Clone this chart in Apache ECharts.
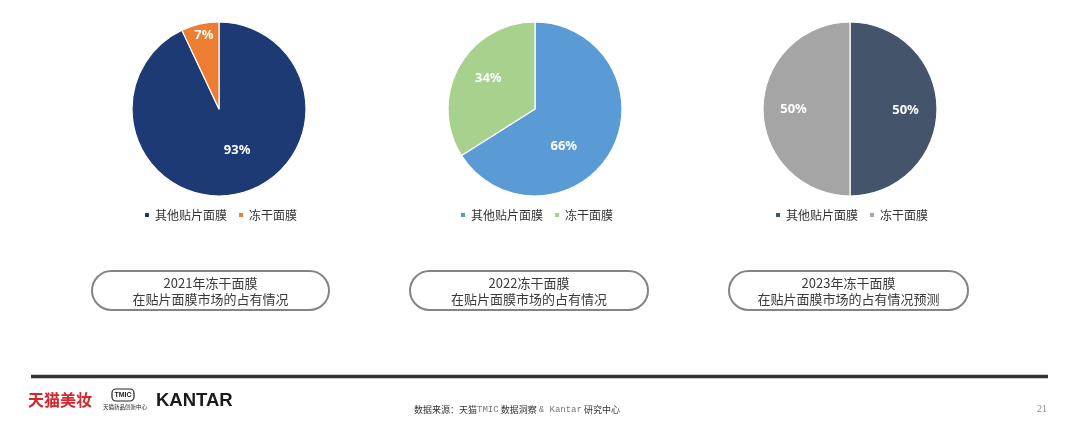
<!DOCTYPE html>
<html>
<head>
<meta charset="utf-8">
<script src="https://cdn.jsdelivr.net/npm/echarts@6/dist/echarts.min.js"></script>
<style>
  html, body { margin: 0; padding: 0; background: #ffffff; }
  #chart { width: 1080px; height: 443px; }
</style>
</head>
<body>
<div id="chart"></div>
<script>
// ---- data ----
const years = ['2021', '2022', '2023'];
const categories = ['其他贴片面膜', '冻干面膜'];
const share2021 = [93, 7];
const share2022 = [66, 34];
const share2023 = [50, 50];
const boxLine1 = ['2021年冻干面膜', '2022冻干面膜', '2023年冻干面膜'];
const boxLine2 = ['在贴片面膜市场的占有情况', '在贴片面膜市场的占有情况', '在贴片面膜市场的占有情况预测'];
const sourceText = ['数据来源：天猫', 'TMIC', ' 数据洞察 ', '& Kantar', ' 研究中心'];
const pageNumber = '21';

// ---- styles / layout ----
const shares = [share2021, share2022, share2023];
const colors = [
  ['#1D3A75', '#ED7D31'],
  ['#5B9BD5', '#A9D18E'],
  ['#44546A', '#A5A5A5']
];
const pieCenters = [[219, 109], [535, 109], [850, 109]];
const pieRadius = 87;
const labelOffsets = [
  [[8, -4], [-5, -28]],
  [[-12, 15], [-6, -8]],
  [[9, 1], [-10, 0]]
];
const boxes = [[92, 271, 237, 39], [410, 271, 238, 39], [729, 271, 239, 39]];
const CJK = '"Noto Sans CJK SC", "Noto Sans", sans-serif';

const chart = echarts.init(document.getElementById('chart'), null, { renderer: 'canvas' });

const series = shares.map((vals, k) => ({
  type: 'pie',
  center: pieCenters[k],
  radius: [0, pieRadius],
  startAngle: 90,
  clockwise: true,
  silent: true,
  animation: false,
  itemStyle: { borderColor: '#ffffff', borderWidth: 1.2 },
  label: {
    show: true,
    position: 'inside',
    formatter: '{c}%',
    color: '#ffffff',
    fontSize: 13,
    fontWeight: 'bold',
    fontFamily: '"Noto Sans", sans-serif'
  },
  labelLine: { show: false },
  emphasis: { disabled: true },
  data: categories.map((name, i) => ({
    name: name,
    value: vals[i],
    itemStyle: { color: colors[k][i] },
    label: { offset: labelOffsets[k][i] }
  }))
}));

const legends = years.map((y, k) => ({
  left: pieCenters[k][0] - 81,
  top: 204,
  orient: 'horizontal',
  icon: 'rect',
  itemWidth: 6,
  itemHeight: 6,
  itemGap: 10,
  selectedMode: false,
  textStyle: { fontSize: 12, color: '#333333', fontFamily: CJK },
  data: categories.map((name, i) => ({ name: name, itemStyle: { color: colors[k][i] } }))
}));

const graphics = [];
boxes.forEach((b, k) => {
  graphics.push({
    type: 'rect',
    shape: { x: b[0], y: b[1], width: b[2], height: b[3], r: b[3] / 2 },
    style: { fill: '#ffffff', stroke: '#848484', lineWidth: 2 },
    silent: true
  });
  graphics.push({
    type: 'text',
    x: b[0] + b[2] / 2,
    y: b[1] + b[3] / 2 + 0.5,
    style: {
      text: boxLine1[k] + '\n' + boxLine2[k],
      align: 'center',
      verticalAlign: 'middle',
      fontSize: 13,
      lineHeight: 16,
      fill: '#3a3a3a',
      fontFamily: CJK
    },
    silent: true
  });
});

// footer rule
graphics.push({
  type: 'line',
  shape: { x1: 31, y1: 376.5, x2: 1048, y2: 376.5 },
  style: { stroke: '#333333', lineWidth: 3.5 },
  silent: true
});
// logos
graphics.push({
  type: 'text', x: 28, y: 400,
  style: { text: '天猫美妆', fontSize: 16, fontWeight: 'bold', fill: '#D7262C', verticalAlign: 'middle', fontFamily: CJK },
  silent: true
});
graphics.push({
  type: 'rect',
  shape: { x: 112, y: 389, width: 22, height: 12, r: 4 },
  style: { fill: '#ffffff', stroke: '#222222', lineWidth: 1.2 },
  silent: true
});
graphics.push({
  type: 'text', x: 123, y: 395,
  style: { text: 'TMIC', fontSize: 7, fontWeight: 'bold', fill: '#222222', align: 'center', verticalAlign: 'middle', fontFamily: '"Liberation Sans", sans-serif' },
  silent: true
});
graphics.push({
  type: 'text', x: 125, y: 406.5,
  style: { text: '天猫新品创新中心', fontSize: 5.5, fill: '#222222', align: 'center', verticalAlign: 'middle', fontFamily: CJK },
  silent: true
});
graphics.push({
  type: 'text', x: 156, y: 400.5,
  style: { text: 'KANTAR', fontSize: 18.5, fontWeight: 'bold', fill: '#1a1a1a', verticalAlign: 'middle', fontFamily: '"Liberation Sans", sans-serif' },
  silent: true
});
// source line
graphics.push({
  type: 'text', x: 517, y: 410,
  style: {
    text: '{a|' + sourceText[0] + '}{m|' + sourceText[1] + '}{a|' + sourceText[2] + '}{m|' + sourceText[3] + '}{a|' + sourceText[4] + '}',
    align: 'center',
    verticalAlign: 'middle',
    rich: {
      a: { fontSize: 9, fill: '#333333', fontFamily: CJK },
      m: { fontSize: 9, fill: '#777777', fontFamily: '"Liberation Mono", monospace' }
    }
  },
  silent: true
});
graphics.push({
  type: 'text', x: 1047, y: 409.5,
  style: { text: pageNumber, fontSize: 10, fill: '#8a8a8a', align: 'right', verticalAlign: 'middle', fontFamily: '"Liberation Serif", serif' },
  silent: true
});

chart.setOption({
  backgroundColor: '#ffffff',
  animation: false,
  legend: legends,
  series: series,
  graphic: graphics
});
</script>
</body>
</html>
